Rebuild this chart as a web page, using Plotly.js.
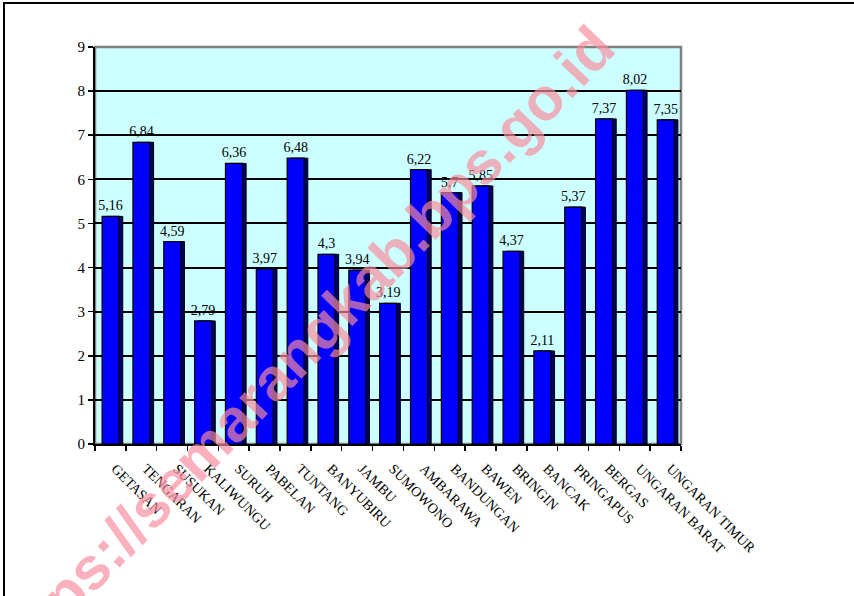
<!DOCTYPE html>
<html>
<head>
<meta charset="utf-8">
<script src="https://cdn.plot.ly/plotly-3.0.1.min.js"></script>
<style>
  html, body { margin: 0; padding: 0; background: #fff; }
  #wrap { position: relative; width: 854px; height: 596px; overflow: hidden; }
  #chart { width: 854px; height: 596px; }
  #frame { position: absolute; left: 3px; top: 2px; right: -4px; bottom: -4px;
           border-left: 2px solid #000; border-top: 2px solid #000; pointer-events: none; }
</style>
</head>
<body>
<div id="wrap">
  <div id="chart"></div>
  <div id="frame"></div>
</div>
<script>
const categories = ["GETASAN", "TENGARAN", "SUSUKAN", "KALIWUNGU", "SURUH", "PABELAN", "TUNTANG",
  "BANYUBIRU", "JAMBU", "SUMOWONO", "AMBARAWA", "BANDUNGAN", "BAWEN", "BRINGIN", "BANCAK",
  "PRINGAPUS", "BERGAS", "UNGARAN BARAT", "UNGARAN TIMUR"];
const values = [5.16, 6.84, 4.59, 2.79, 6.36, 3.97, 6.48, 4.3, 3.94, 3.19, 6.22, 5.7, 5.85,
  4.37, 2.11, 5.37, 7.37, 8.02, 7.35];
const yTicks = [0, 1, 2, 3, 4, 5, 6, 7, 8, 9];
const watermark = "https://semarangkab.bps.go.id";

const serif = "Liberation Serif, Times New Roman, serif";

const depth = {
  type: "bar", x: categories, y: values,
  width: 0.55, offset: -0.15,
  marker: { color: "#000066", line: { color: "#000000", width: 1 } },
  hoverinfo: "skip", showlegend: false
};
const front = {
  type: "bar", x: categories, y: values,
  width: 0.55, offset: -0.27,
  marker: { color: "#0000FF", line: { color: "#000000", width: 1.2 } },
  texttemplate: "%{y}",
  textposition: "outside", constraintext: "none", cliponaxis: false,
  textfont: { family: serif, size: 14, color: "#000" },
  showlegend: false
};

const layout = {
  width: 854, height: 596,
  margin: { l: 95, r: 173, t: 47, b: 152 },
  paper_bgcolor: "#ffffff",
  plot_bgcolor: "#CCFFFF",
  separators: ",.",
  barmode: "overlay",
  bargap: 0,
  font: { family: serif, size: 14, color: "#000" },
  xaxis: {
    type: "category",
    tickangle: 45,
    ticks: "outside", ticklen: 5, tickcolor: "#000", tickwidth: 1.5,
    tickson: "boundaries",
    ticklabelstandoff: 9,
    ticklabelshift: 5,
    showline: true, linecolor: "#000", linewidth: 2,
    showgrid: false,
    tickfont: { family: serif, size: 14, color: "#000" },
    fixedrange: true
  },
  yaxis: {
    range: [0, 9],
    tickvals: yTicks,
    ticks: "outside", ticklen: 5, tickcolor: "#000", tickwidth: 1.5,
    showline: true, linecolor: "#000", linewidth: 2,
    showgrid: true, gridcolor: "#000", gridwidth: 2,
    zeroline: false,
    tickfont: { family: serif, size: 15, color: "#000" },
    fixedrange: true
  },
  shapes: [
    { type: "rect", xref: "paper", yref: "paper", x0: 0, x1: 1, y0: 0, y1: 1,
      line: { color: "#808080", width: 2.5 }, layer: "below" }
  ],
  annotations: [
    { text: "<b>" + watermark + "</b>", xref: "paper", yref: "paper",
      x: 0.352, y: 0.238, xanchor: "center", yanchor: "middle",
      textangle: -46, showarrow: false,
      font: { family: "Liberation Sans, Arial, sans-serif", size: 60, color: "rgba(248,140,158,0.68)" } }
  ]
};

Plotly.newPlot("chart", [depth, front], layout, { displayModeBar: false, staticPlot: true });
</script>
</body>
</html>
